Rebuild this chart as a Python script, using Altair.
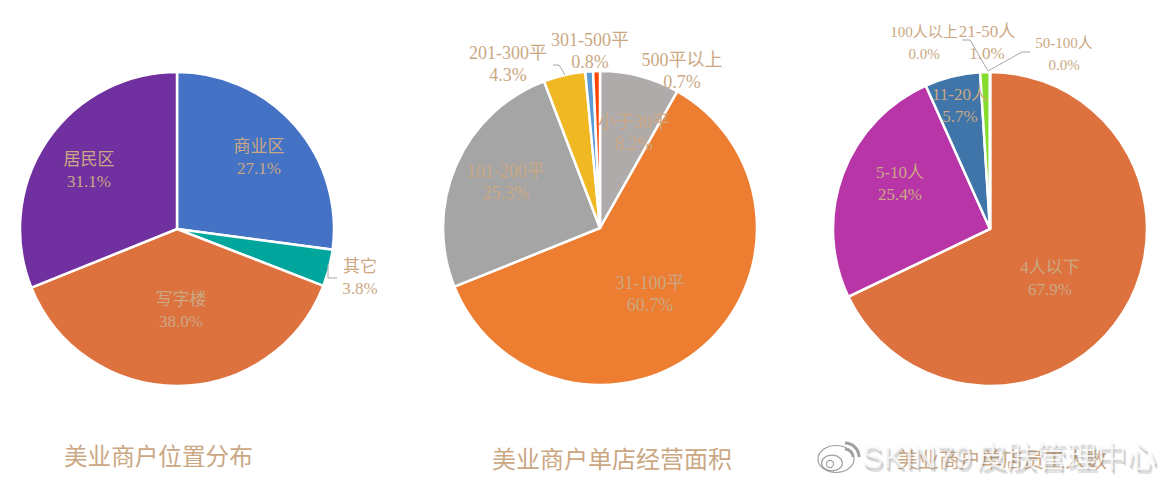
import altair as alt
import pandas as pd

# values, all in percent
loc_names = ["商业区", "其它", "写字楼", "居民区"]
loc_vals = [27.1, 3.8, 38.0, 31.1]
loc_cols = ["#4472C4", "#00A59B", "#DD723F", "#7030A0"]

area_names = ["小于30平", "31-100平", "101-200平", "201-300平", "301-500平", "500平以上"]
area_vals = [8.2, 60.7, 25.3, 4.3, 0.8, 0.7]
area_cols = ["#AFABAB", "#ED7D31", "#A5A5A5", "#F0B923", "#5B9BD5", "#FF4500"]

staff_names = ["4人以下", "5-10人", "11-20人", "21-50人", "50-100人", "100人以上"]
staff_vals = [67.9, 25.4, 5.7, 1.0, 0.0, 0.0]
staff_cols = ["#DD723F", "#B835A8", "#3F75A9", "#86DC2B", "#A5A5A5", "#5B9BD5"]

titles = ["美业商户位置分布", "美业商户单店经营面积", "美业商户单店员工人数"]

TAN = "#CBA883"
LABEL_FONT = "Liberation Serif, Noto Sans CJK SC"
W, H = 1153, 470
R = 157

# page has an 8px margin, so everything below is in page pixels minus 8
def px(v):
    return alt.value(v - 8)

def one(t=""):
    return pd.DataFrame({"t": [t]})

def pie(names, vals, cols, cx, cy):
    df = pd.DataFrame({"name": names, "val": vals, "col": cols, "ord": range(len(names))})
    return alt.Chart(df).mark_arc(outerRadius=R, stroke="white", strokeWidth=2.5).encode(
        theta=alt.Theta("val:Q", stack=True, scale=alt.Scale(domain=[0, 100])),
        order=alt.Order("ord:Q"),
        color=alt.Color("col:N", scale=None),
        x=px(cx),
        y=px(cy),
    )

# y is the first line of the label, the percent goes one line below
def label(name, val, x, y, size=17):
    return alt.Chart(one(f"{name}\n{val:.1f}%")).mark_text(
        font=LABEL_FONT, fontSize=size, color=TAN, lineBreak="\n", lineHeight=21.5,
        align="center", baseline="middle",
    ).encode(text="t:N", x=px(x), y=px(y))

def leader(x1, y1, x2, y2):
    return alt.Chart(one()).mark_rule(color="#A6A6A6", strokeWidth=1).encode(
        x=px(x1), y=px(y1), x2=px(x2), y2=px(y2)
    )

def heading(t, x, y, size=23.6):
    return alt.Chart(one(t)).mark_text(
        font=LABEL_FONT, fontSize=size, color=TAN, align="left", baseline="middle"
    ).encode(text="t:N", x=px(x), y=px(y))

def ring(x, y, size, tall=0.75):
    shape = f"M-1,0 a1,{tall} 0 1,0 2,0 a1,{tall} 0 1,0 -2,0 Z"
    return alt.Chart(one()).mark_point(
        shape=shape, size=size, stroke="#A0A0A0", strokeWidth=1.2, fill="white", opacity=1
    ).encode(x=px(x), y=px(y))

def wave(x, y, r):
    return alt.Chart(one()).mark_arc(
        innerRadius=r - 1.5, outerRadius=r + 1.5, theta=0, theta2=1.57, color="#A0A0A0"
    ).encode(x=px(x), y=px(y))

def mark_text(t, x, y, size, col, op):
    return alt.Chart(one(t)).mark_text(
        font="Liberation Sans, Noto Sans CJK SC", fontSize=size, color=col, opacity=op,
        align="left", baseline="middle",
    ).encode(text="t:N", x=px(x), y=px(y))

layers = [
    pie(loc_names, loc_vals, loc_cols, 177, 229),
    pie(area_names, area_vals, area_cols, 600, 228),
    pie(staff_names, staff_vals, staff_cols, 990, 229),
    # leader lines
    leader(328, 265, 328, 278), leader(328, 278, 337, 278),
    leader(553, 65, 559, 65), leader(559, 65, 565, 75),
    leader(962, 40, 970, 40), leader(970, 40, 988, 71),
    leader(988, 71, 1022, 52), leader(1022, 52, 1030, 52),
]

pos = {
    "商业区": (259, 147), "其它": (360, 267), "写字楼": (181, 300), "居民区": (89, 160),
    "小于30平": (634, 123), "31-100平": (650, 284), "101-200平": (506, 172),
    "201-300平": (508, 54), "301-500平": (590, 41), "500平以上": (682, 61),
    "4人以下": (1050, 268), "5-10人": (900, 173), "11-20人": (960, 95), "21-50人": (987, 32),
}
for n, v in zip(loc_names, loc_vals):
    layers.append(label(n, v, pos[n][0], pos[n][1]))
for n, v in zip(area_names, area_vals):
    layers.append(label(n, v, pos[n][0], pos[n][1], size=18))
for n, v in zip(staff_names[:4], staff_vals[:4]):
    layers.append(label(n, v, pos[n][0], pos[n][1]))
layers.append(label("100人以上", 0.0, 924, 32, size=15))
layers.append(label("50-100人", 0.0, 1064, 43, size=15))

layers.append(heading(titles[0], 64, 458))
layers.append(heading(titles[1], 492, 461, size=24))
layers.append(heading(titles[2], 897, 461, size=21))

# weibo watermark sits on top of the last heading
layers += [ring(836, 459, 1300), ring(832, 463, 430), ring(830, 464, 50, tall=1), wave(845, 457, 8), wave(845, 457, 14)]
for col, op, dx, dy in [("#666666", 0.18, 2, 4), ("#666666", 0.22, 1, 2), ("#FAFAFA", 0.8, 0, 0)]:
    layers.append(mark_text("SKIN79", 862 + dx, 458 + dy, 32, col, op))
    layers.append(mark_text("皮肤管理中心", 977 + dx, 458 + dy, 30, col, op))

chart = alt.layer(*layers).resolve_scale(theta="independent").properties(
    width=W, height=H, padding=0, autosize=alt.AutoSizeParams(type="none")
).configure_view(stroke=None)

chart.save("out.html", embed_options={"renderer": "svg", "actions": False})
